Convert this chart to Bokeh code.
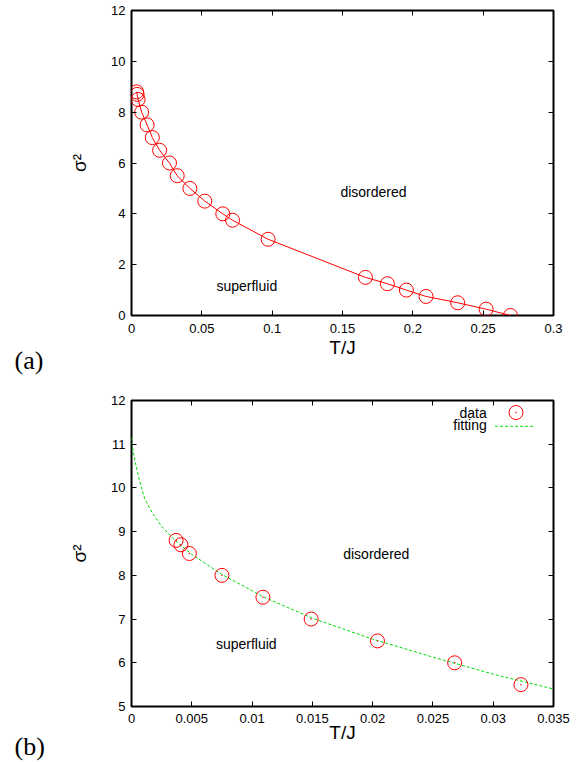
from bokeh.plotting import figure
from bokeh.layouts import column
from bokeh.models import Range1d, LinearAxis, FixedTicker, Label, Title
from bokeh.embed import file_html
from bokeh.resources import INLINE

# ---------------- data ----------------
# panel (a): phase boundary sigma^2 vs T/J
T_a = [0.0036, 0.0040, 0.0047, 0.0072, 0.0111, 0.0148, 0.0200, 0.0270, 0.0325,
       0.0415, 0.0521, 0.0649, 0.0718, 0.0971, 0.1663, 0.1819, 0.1954, 0.2094,
       0.2319, 0.2521, 0.2694]
S_a = [8.8, 8.7, 8.5, 8.0, 7.5, 7.0, 6.5, 6.0, 5.5,
       5.0, 4.5, 4.0, 3.75, 3.0, 1.5, 1.25, 1.0, 0.75,
       0.5, 0.25, 0.0]

# panel (b): low-temperature zoom, data + fitting curve
T_b = [0.0037, 0.0041, 0.0048, 0.0075, 0.0109, 0.0149, 0.0204, 0.0268, 0.0323]
S_b = [8.8, 8.7, 8.5, 8.0, 7.5, 7.0, 6.5, 6.0, 5.5]

T_fit = [0.0, 0.00015, 0.0003, 0.0007, 0.0011, 0.0017, 0.0025, 0.0036, 0.005,
         0.0075, 0.011, 0.015, 0.020, 0.025, 0.030, 0.035]
S_fit = [11.15, 10.82, 10.6, 10.13, 9.75, 9.44, 9.12, 8.8, 8.48,
         8.02, 7.5, 7.02, 6.54, 6.13, 5.74, 5.40]

# ticks
xt_a = [0, 0.05, 0.1, 0.15, 0.2, 0.25, 0.3]
xl_a = ["0", "0.05", "0.1", "0.15", "0.2", "0.25", "0.3"]
yt_a = [0, 2, 4, 6, 8, 10, 12]
xt_b = [0, 0.005, 0.01, 0.015, 0.02, 0.025, 0.03, 0.035]
xl_b = ["0", "0.005", "0.01", "0.015", "0.02", "0.025", "0.03", "0.035"]
yt_b = [5, 6, 7, 8, 9, 10, 11, 12]

SANS = "Liberation Sans"
SERIF = "Liberation Serif"
TICK_FS = "13px"
RED = "#ff0000"
GREEN = "#00dd00"


def style_axis(ax, ticks, labels=None, show_labels=True, standoff=7):
    ax.ticker = FixedTicker(ticks=ticks)
    if labels is not None:
        ax.major_label_overrides = {t: l for t, l in zip(ticks, labels)}
    ax.axis_line_color = None
    ax.major_tick_in = 5
    ax.major_tick_out = 0
    ax.major_tick_line_color = "black"
    ax.major_tick_line_width = 1
    ax.minor_tick_line_color = None
    ax.major_label_text_font = SANS
    if show_labels:
        ax.major_label_text_color = "black"
        ax.major_label_text_font_size = TICK_FS
        ax.major_label_standoff = standoff
    else:
        ax.major_label_text_color = None
        ax.major_label_text_font_size = "1px"
        ax.major_label_standoff = 0


def make_fig(height, xr, yr, top, bottom, xt, xl, yt, xstand, ystand, tstand):
    p = figure(width=585, height=height, x_range=Range1d(*xr), y_range=Range1d(*yr),
               output_backend="svg", toolbar_location=None,
               min_border_left=131, min_border_right=32,
               min_border_top=top, min_border_bottom=bottom)
    p.xgrid.visible = False
    p.ygrid.visible = False
    p.outline_line_color = "black"
    p.outline_line_width = 2
    p.outline_line_alpha = 1
    p.background_fill_color = "white"
    p.border_fill_color = "white"
    style_axis(p.xaxis[0], xt, xl, standoff=tstand)
    style_axis(p.yaxis[0], yt, standoff=6)
    p.xaxis.axis_label = "T/J"
    p.yaxis.axis_label = "σ²"
    for ax, st in ((p.xaxis[0], xstand), (p.yaxis[0], ystand)):
        ax.axis_label_text_font = SANS
        ax.axis_label_text_font_style = "normal"
        ax.axis_label_text_font_size = "19px"
        ax.axis_label_text_color = "black"
        ax.axis_label_standoff = st
    top_ax = LinearAxis()
    style_axis(top_ax, xt, show_labels=False)
    p.add_layout(top_ax, "above")
    right_ax = LinearAxis()
    style_axis(right_ax, yt, show_labels=False)
    p.add_layout(right_ax, "right")
    return p


def add_text(p, x, y, t, size="14px", font=SANS, align="left"):
    p.add_layout(Label(x=x, y=y, text=t, text_font=font, text_font_size=size,
                       text_color="black", text_baseline="middle", text_align=align))


def add_panel_tag(p, t, standoff):
    p.add_layout(Title(text=t, align="left", offset=-117, standoff=standoff,
                       vertical_align="top",
                       text_font=SERIF, text_font_size="26px",
                       text_font_style="normal", text_color="black"), "below")


# ---------------- panel (a) ----------------
pa = make_fig(385, (0, 0.3), (0, 12), 10, 70, xt_a, xl_a, yt_a, 1, 18, 8)
pa.line(T_a, S_a, line_color=RED, line_width=1)
pa.scatter(T_a, S_a, marker="circle", size=14, fill_color=None,
           line_color=RED, line_width=1)
add_text(pa, 0.1485, 4.84, "disordered")
add_text(pa, 0.0604, 1.18, "superfluid")
add_panel_tag(pa, "(a)", -30)

# ---------------- panel (b) ----------------
pb = make_fig(377, (0, 0.035), (5, 12), 15, 56, xt_b, xl_b, yt_b, -4, 18, 7)
pb.line(T_fit, S_fit, line_color=GREEN, line_width=1, line_dash="3 2")
pb.scatter(T_b, S_b, marker="circle", size=14, fill_color=None,
           line_color=RED, line_width=1)
pb.scatter(T_b, S_b, marker="circle", size=1.5, fill_color=RED, line_color=None)
add_text(pb, 0.01756, 8.50, "disordered")
add_text(pb, 0.0070, 6.42, "superfluid")
add_panel_tag(pb, "(b)", -28)

# legend (drawn by hand: text on the left, sample on the right)
add_text(pb, 0.02946, 11.725, "data", align="right")
add_text(pb, 0.02946, 11.43, "fitting", align="right")
pb.scatter([0.03189], [11.725], marker="circle", size=14, fill_color=None,
           line_color=RED, line_width=1)
pb.scatter([0.03189], [11.725], marker="circle", size=1.5, fill_color=RED, line_color=None)
pb.line([0.03015, 0.03347], [11.41, 11.41], line_color=GREEN, line_width=1, line_dash="3 2")

layout = column(pa, pb, spacing=0)
open("out.html", "w").write(file_html(layout, INLINE))
